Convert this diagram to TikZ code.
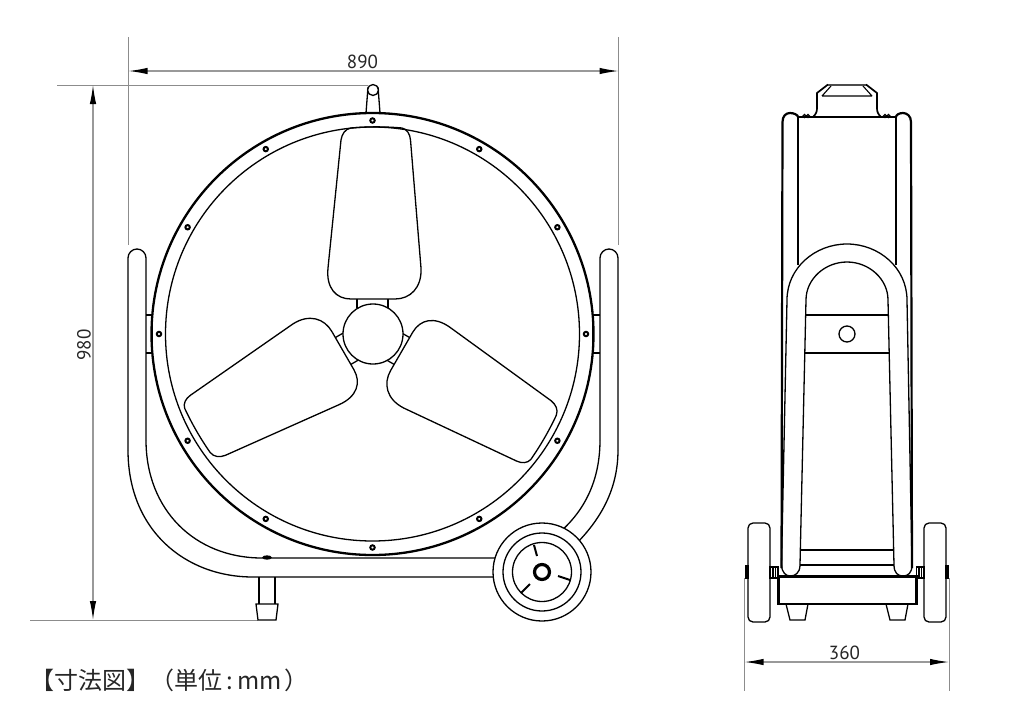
\documentclass[tikz,border=0pt]{standalone}
\usepackage{fontspec}
\setmainfont{PT Sans}
\newfontfamily\cjk{Noto Sans CJK JP}
\usetikzlibrary{arrows.meta}
\tikzset{
	part/.style={line width=0.65pt,black},
	thinpart/.style={line width=0.55pt,black},
	heavy/.style={line width=1.15pt,black},
	extline/.style={line width=0.45pt,black!45},
	dimline/.style={line width=0.55pt,black!40,{Latex[length=9.5pt,width=3.2pt,color=black]}-{Latex[length=9.5pt,width=3.2pt,color=black]}},
	dimtext/.style={font=\fontsize{9.5}{9.5}\selectfont,text=black!85,inner sep=0pt},
}
\begin{document}
\begin{tikzpicture}[x=0.5pt,y=-0.5pt]
		\useasboundingbox (0,0) rectangle (1024,724);
		
		% dimension lines
		\coordinate (wL) at (128.5,71);
		\coordinate (wR) at (618.5,71);
		\coordinate (hT) at (93,85);
		\coordinate (hB) at (93,620);
		\coordinate (dL) at (744.5,662);
		\coordinate (dR) at (949,662);
		\draw[extline] (128.5,37) -- (128.5,245);
		\draw[extline] (618.5,37) -- (618.5,245);
		\draw[extline] (57,85) -- (368,85);
		\draw[extline] (30,620.5) -- (258,620.5);
		\draw[extline] (744.5,578) -- (744.5,691);
		\draw[extline] (949,578) -- (949,691);
		\draw[dimline] (wL) -- (wR);
		\draw[dimline] (hT) -- (hB);
		\draw[dimline] (dL) -- (dR);
		\node[dimtext] (wText) at (362.5,61.5) {890};
		\node[dimtext,rotate=90] (hText) at (84,345) {980};
		\node[dimtext] (dText) at (844.5,653) {360};
		\node[anchor=west,inner sep=0pt,font=\cjk\fontsize{12}{12}\selectfont,text=black!85] (title) at (30,680) {【寸法図】（単位\,:\,mm\kern1.3pt）};
		
		% front view, stand
		\draw[part] (128,450) -- (128,258) arc[start angle=180,end angle=360,radius=9] -- (146,440);
		\draw[part] (128,450) .. controls (128,530) and (185,577) .. (253,577) -- (500,577);
		\draw[part] (146,440) .. controls (146,510) and (195,558) .. (262,558) -- (500,558);
		\draw[part] (618,450) -- (618,258) arc[start angle=0,end angle=-180,radius=9] -- (600,440);
		\draw[part] (618,450) .. controls (618,490) and (600,520) .. (575,545);
		\draw[part] (600,440) .. controls (600,480) and (585,510) .. (560,532);
		\draw[part] (146,315) -- (153,315) (146,353) -- (153,353) (152,315) -- (152,353);
		\draw[part] (600,315) -- (593,315) (600,353) -- (593,353) (593,315) -- (593,353);
		\draw[part,fill=black] (267,557.5) ellipse (4 and 1.5);
		
		% stand foot
		\draw[heavy,line width=0.9pt] (259,577) -- (259,604) (275,577) -- (275,604);
		\draw[part] (256,604) -- (278,604) -- (276,620) -- (258,620) -- cycle;
		
		% top handle
		\draw[part] (368,87) -- (366,113);
		\draw[part] (378,87) -- (380,113);
		\draw[part,fill=white] (373,90) circle (5.5);
		
		% ring
		\draw[heavy] (372.5,334) circle (221);
		\draw[part] (372.5,334) circle (207);
		\foreach \ang in {0,30,...,330}
		\draw[line width=1pt,fill=white] (372.5,334) ++(\ang:213.5) circle (2.2);
		
		% blades
		\foreach \ang/\ys in {0/1,120/0.97,240/0.97}{
			\begin{scope}[rotate around={\ang:(372.5,334)},shift={(372.5,334)},yscale=\ys,shift={(-372.5,-334)}]
				\draw[part] (351,128) .. controls (368,126.5) and (385,126.5) .. (402,128) .. controls (407,129) and (410,134) .. (410.5,140) -- (421,268) .. controls (422,288) and (410,299) .. (395,299) -- (351,299) .. controls (336,299) and (326,288) .. (328,268) -- (341,140) .. controls (342,134) and (345,129) .. (351,128) -- cycle;
				\draw[part] (357,299) -- (357,308);
				\draw[part] (388,299) -- (388,308);
			\end{scope}
		}
		\draw[part,fill=white] (373,334) circle (30);
		
		% wheel
		\draw[part,fill=white] (542,572) circle (49);
		\draw[part] (542,572) circle (39);
		\draw[part] (542,572) circle (29.5);
		\draw[line width=1.6pt] (542,572) circle (7.5);
		\draw[line width=1pt] (534,545) -- (537,556);
		\draw[line width=1pt] (558,576) -- (570,580);
		\draw[line width=1pt] (530,584) -- (521,593);
		
		% side view, top cap
		\draw[heavy,line width=0.85pt] (813,117) .. controls (816,114) and (817,112) .. (817,108) -- (817,93) -- (828,84.5);
		\draw[heavy,line width=0.85pt] (881,117) .. controls (878,114) and (877,112) .. (877,108) -- (877,93) -- (866,84.5);
		\draw[line width=1.4pt,black!70] (828,85) -- (866,85);
		\draw[thinpart] (822,96) -- (872,96) (822,96) -- (831,86) (872,96) -- (863,86);
		\draw[thinpart] (804.5,116) circle (1.5) (808,116) circle (1.5);
		\draw[thinpart] (885,116) circle (1.5) (888.5,116) circle (1.5);
		
		% side view, body
		\draw[heavy,line width=1.1pt] (781.5,568) -- (782.5,122) .. controls (782.5,116) and (786,113) .. (790,113) .. controls (794,113) and (798,115) .. (798,117);
		\draw[heavy,line width=1.1pt] (912,568) -- (911,122) .. controls (911,116) and (907,113) .. (903,113) .. controls (899,113) and (896,115) .. (896,117);
		\draw[part] (798,117) -- (896,117);
		\draw[part] (798,117) -- (798,265);
		\draw[part] (896,117) -- (896,265);
		
		% side view, handle loop
		\draw[part] (781.5,565) -- (787,300) .. controls (787,268) and (815,244) .. (847,244) .. controls (879,244) and (907,268) .. (907,300) -- (912,565);
		\draw[part] (800,565) -- (806,300) .. controls (806,279) and (825,262) .. (847,262) .. controls (869,262) and (888,279) .. (888,300) -- (894,565);
		\draw[part] (806,315) -- (888,315);
		\draw[part] (805,353) -- (889,353);
		\draw[part] (847,334) circle (8);
		\draw[part] (800,550) -- (894,550);
		\draw[part] (800,565) -- (894,565);
		\draw[part] (781.5,565) .. controls (782,573) and (786,576) .. (790.5,576) .. controls (795,576) and (800,573) .. (800,565);
		\draw[part] (894,565) .. controls (894,573) and (898,576) .. (903,576) .. controls (908,576) and (912,573) .. (912,565);
		
		% side view, base and feet
		\draw[heavy] (778.5,576.5) rectangle (916.5,604);
		\draw[part] (786,604) -- (790,620) -- (805,620) -- (808,604);
		\draw[part] (886,604) -- (890,620) -- (905,620) -- (908,604);
		
		% side view, wheels and axle
		\draw[part,rounded corners=2.5] (748,523) rectangle (770,622);
		\draw[part,rounded corners=2.5] (924,523) rectangle (946,622);
		\draw[part] (770,567) rectangle (778,578);
		\draw[part] (916.5,567) rectangle (924,578);
		\draw[thinpart] (773,567) -- (773,578) (775.5,567) -- (775.5,578);
		\draw[thinpart] (919,567) -- (919,578) (921.5,567) -- (921.5,578);
		\draw[part,fill=black!70] (746,566) rectangle (748,578);
		\draw[part,fill=black!70] (946,566) rectangle (948,578);
		\end{tikzpicture}
\end{document}
